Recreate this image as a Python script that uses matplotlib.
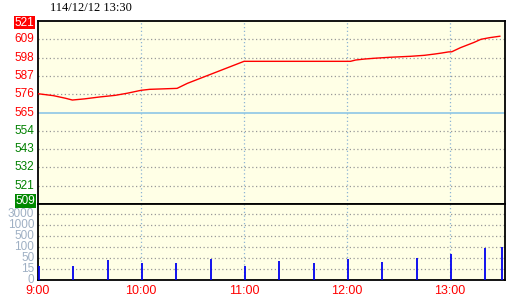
import matplotlib.pyplot as plt
import numpy as np

# price line (minutes after 9:00, price)
minutes = [0, 9, 16, 20, 27, 36, 45, 52, 60, 65, 81, 87, 120, 182, 185, 190, 196,
           205, 217, 225, 231, 235, 239, 241, 246, 254, 258, 263, 269]
price = [576.6, 575.4, 573.8, 572.7, 573.4, 574.6, 575.6, 576.9, 578.7, 579.3, 579.9,
         583.0, 596.6, 596.6, 597.4, 598.0, 598.5, 599.1, 599.7, 600.3, 601.1, 601.7,
         602.4, 602.5, 605.0, 608.3, 610.2, 611.2, 612.1]

# volume bars
vol_min = [0, 20, 40, 60, 80, 100, 120, 140, 160, 180, 200, 220, 240, 260, 270]
vol = [24, 24, 45, 34, 34, 47, 24, 40, 34, 47, 37, 50, 68, 95, 105]

ref_price = 565
price_labels = ["509", "521", "532", "543", "554", "565", "576", "587", "598", "609", "521"]
vol_levels = [0, 15, 50, 100, 500, 1000, 3000]
vol_labels = ["0", "15", "50", "100", "500", "1000", "3000"]
time_pos = [0, 60, 120, 180, 240]
time_labels = ["9:00", "10:00", "11:00", "12:00", "13:00"]
title = "114/12/12 13:30"

bg = "#ffffe6"
W, H = 520, 300
fig = plt.figure(figsize=(5.2, 3.0), dpi=100)

def px_axes(l, t, r, b):
    return fig.add_axes([l / W, 1 - b / H, (r - l) / W, (b - t) / H])

ax = px_axes(38, 21, 505, 204)
axv = px_axes(38, 204, 505, 280)
xmax = 272

lo, hi = 508.5, 621.5
ticks = np.linspace(lo, hi, 11)
for a in (ax, axv):
    a.set_facecolor(bg)
    a.set_xlim(0, xmax)
    a.set_xticks([])
    a.set_yticks([])
    for s in a.spines.values():
        s.set_color("black")
        s.set_linewidth(1.3)
    for t in time_pos[1:]:
        a.axvline(t, color="#8db4d4", lw=0.9, ls=(0, (1, 2)), zorder=1)

ax.set_ylim(lo, hi)
for i, (tv, lab) in enumerate(zip(ticks, price_labels)):
    if 0 < i < 10:
        if i == 5:
            ax.axhline(tv, color="#8ec6e6", lw=1.2, zorder=1)
        else:
            ax.axhline(tv, color="#999999", lw=0.9, ls=(0, (1, 2)), zorder=1)
    col = "red" if i >= 5 else "#008000"
    kw = dict(ha="right", va="center", fontsize=8.5, family="Liberation Sans",
              transform=ax.get_yaxis_transform())
    if i == 10:
        ax.text(-0.008, tv - 1.0, lab, color="white",
                bbox=dict(boxstyle="square,pad=0.05", fc="red", ec="none"), **kw)
    elif i == 0:
        ax.text(-0.006, tv + 1.8, lab, color="white",
                bbox=dict(boxstyle="square,pad=0.05", fc="#008800", ec="none"), **kw)
    else:
        ax.text(-0.008, tv, lab, color=col, **kw)

ax.plot(minutes, price, color="red", lw=1.0, zorder=3)

vtop = (280 - 204) / 11
axv.set_ylim(0, vtop)
idx = np.arange(len(vol_levels))
for i, lab in zip(idx, vol_labels):
    if i > 0:
        axv.axhline(i, color="#999999", lw=0.9, ls=(0, (1, 2)), zorder=1)
    axv.text(-0.008, i, lab, ha="right", va="center", fontsize=8.5,
             family="Liberation Sans", color="#9fb0c4",
             transform=axv.get_yaxis_transform())
vh = np.interp(vol, vol_levels, idx)
axv.vlines(np.array(vol_min) + 0.5, 0, vh, color="#0000ee", lw=1.3, zorder=3,
           clip_on=False)

for t, lab in zip(time_pos, time_labels):
    axv.text(t, -0.14, lab, ha="center", va="center", color="red", fontsize=9,
             family="Liberation Sans", transform=axv.get_xaxis_transform())

fig.text(50 / W, 1 - 8 / H, title, ha="left", va="center", fontsize=9,
         family="Liberation Serif", color="black")

fig.savefig("out.png", dpi=100, facecolor="white")
